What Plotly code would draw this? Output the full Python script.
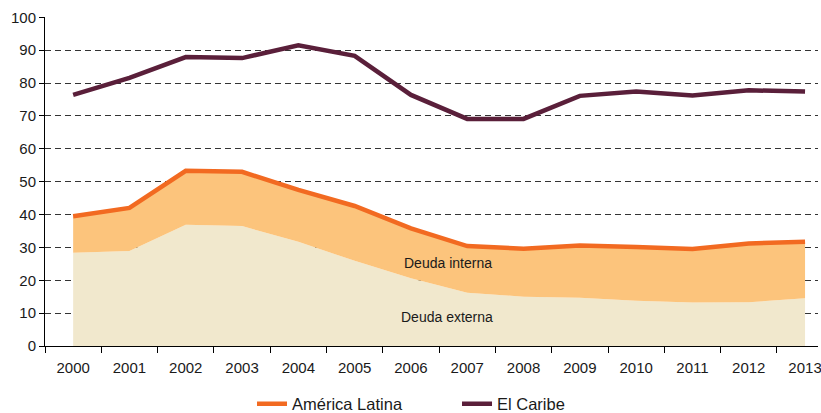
import plotly.graph_objects as go

years = list(range(2000, 2014))
caribe = [76.4, 81.6, 87.9, 87.6, 91.5, 88.3, 76.4, 69.1, 69.1, 76.1, 77.4, 76.2, 77.8, 77.4]
america_latina = [39.5, 42.0, 53.3, 53.0, 47.5, 42.6, 35.8, 30.4, 29.6, 30.6, 30.1, 29.5, 31.2, 31.7]
deuda_externa = [28.4, 28.9, 36.9, 36.5, 31.7, 25.9, 20.6, 16.2, 15.0, 14.7, 13.8, 13.2, 13.3, 14.5]
y_ticks = [0, 10, 20, 30, 40, 50, 60, 70, 80, 90, 100]

FONT = "Liberation Sans, Arial, sans-serif"

fig = go.Figure()
fig.add_trace(go.Scatter(x=years, y=deuda_externa, mode="lines", line=dict(width=0),
                         fill="tozeroy", fillcolor="#F1E8CD", showlegend=False, hoverinfo="skip"))
fig.add_trace(go.Scatter(x=years, y=america_latina, mode="lines", line=dict(width=0),
                         fill="tonexty", fillcolor="#FCC47C", showlegend=False, hoverinfo="skip"))
fig.add_trace(go.Scatter(x=years, y=america_latina, mode="lines", name="América Latina",
                         line=dict(color="#F26A21", width=4.5)))
fig.add_trace(go.Scatter(x=years, y=caribe, mode="lines", name="El Caribe",
                         line=dict(color="#5A1F3A", width=4.5)))

fig.add_annotation(x=2006.66, y=25.3, text="Deuda interna", showarrow=False,
                   font=dict(family=FONT, size=14, color="#1a1a1a"))
fig.add_annotation(x=2006.64, y=8.8, text="Deuda externa", showarrow=False,
                   font=dict(family=FONT, size=14, color="#1a1a1a"))

fig.update_layout(
    width=821, height=413,
    margin=dict(l=45, r=3, t=17, b=67, autoexpand=False),
    plot_bgcolor="white", paper_bgcolor="white",
    font=dict(family=FONT, size=15, color="#1a1a1a"),
    legend=dict(orientation="h", x=0.533, xanchor="center", y=-0.176, yanchor="middle",
                traceorder="normal",
                font=dict(family=FONT, size=16.5, color="#1a1a1a"),
                entrywidth=160, itemwidth=30),
    xaxis=dict(range=[1999.5, 2013.23], tickvals=years, ticktext=[str(y) for y in years],
               ticks="", showgrid=False, zeroline=False, showline=True, linecolor="black",
               linewidth=1, tickfont=dict(size=15), ticklabelstandoff=8, automargin=False,
               ticklabeloverflow="allow",
               minor=dict(tickvals=[y + 0.5 for y in range(1999, 2013)], ticks="outside",
                          ticklen=6, tickcolor="black", tickwidth=1, showgrid=False)),
    yaxis=dict(range=[0, 100.1], tickvals=y_ticks, ticks="outside", ticklen=5,
               tickcolor="black", showline=True, linecolor="black", linewidth=1,
               zeroline=False, showgrid=True, gridcolor="#333333", griddash="6px,4px",
               gridwidth=1, tickfont=dict(size=15), automargin=False),
)

fig.write_html("out.html", config={"displayModeBar": False},
               post_script="document.body.style.margin='0';document.body.style.overflow='hidden';")
